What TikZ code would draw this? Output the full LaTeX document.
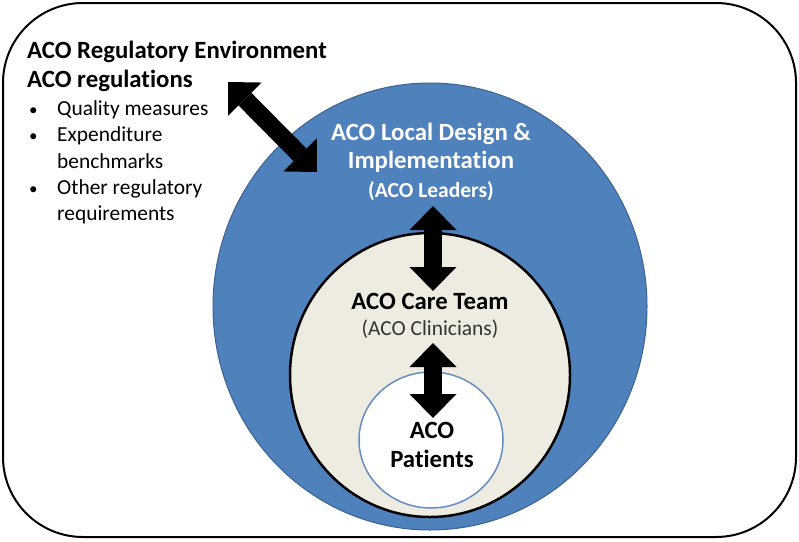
\documentclass[tikz,border=0pt]{standalone}
\usepackage{fontspec}
\setmainfont{Carlito}[Ligatures=NoCommon]
\usetikzlibrary{arrows.meta,shapes.geometric}
\definecolor{acoblue}{RGB}{79,129,189}
\definecolor{acoedge}{RGB}{60,98,145}
\definecolor{acobeige}{RGB}{238,236,225}
\definecolor{acoring}{RGB}{100,142,196}
\begin{document}
\begin{tikzpicture}[x=1pt,y=-1pt]
        \tikzstyle{every node} = [inner sep=0pt]
        \tikzstyle{big} = [font=\fontsize{24.8}{29}\selectfont\bfseries]
        \tikzstyle{small} = [font=\fontsize{21.4}{25}\selectfont]
        \tikzstyle{twoway} = [line width=18pt,
            {Triangle[length=24pt,width=47pt,line width=0pt]}-{Triangle[length=24pt,width=47pt,line width=0pt]}]
        \useasboundingbox (0,0) rectangle (799,541);
        \draw[line width=2pt, rounded corners=80pt] (3,3) rectangle (796,537);

        % the three rings
        \node[ellipse, draw=acoedge, line width=1pt, fill=acoblue, minimum width=434pt, minimum height=447pt] (env) at (430,306.5) {};
        \node[ellipse, draw=black, line width=2.5pt, fill=acobeige, minimum width=280pt, minimum height=284pt] (team) at (430,375) {};
        \node[ellipse, draw=acoring, line width=1.5pt, fill=white, minimum width=144pt, minimum height=136pt] (pat) at (431,440) {};

        % left text
        \node[big, anchor=base west] (regenv) at (27,58) {ACO Regulatory Environment};
        \node[big, anchor=base west] (regs) at (27,87) {ACO regulations};
        \foreach \y [count=\i] in {115,141,194}
            \node[font=\fontsize{17}{20}\selectfont, anchor=base west] (dot\i) at (29,\y) {\textbullet};
        \foreach \y/\t [count=\i] in {115/Quality measures, 141/Expenditure, 168/benchmarks, 194/Other regulatory, 220/requirements}
            \node[small, anchor=base west] (item\i) at (57,\y) {\t};

        % ring labels
        \node[big, text=white] (local) at (431,140) [anchor=base] {ACO Local Design \&};
        \node[big, text=white] (impl) at (431,168) [anchor=base] {Implementation};
        \node[small, text=white, font=\fontsize{21.5}{25}\selectfont\bfseries] (lead) at (431,197) [anchor=base] {(ACO Leaders)};
        \node[big] (care) at (430,309) [anchor=base] {ACO Care Team};
        \node[small, text=black!80] (clin) at (430,335) [anchor=base] {(ACO Clinicians)};
        \node[big] (aco) at (432,438) [anchor=base] {ACO};
        \node[big] (patl) at (432,467) [anchor=base] {Patients};

        % arrow ends
        \coordinate (r1) at (228,82);
        \coordinate (r2) at (317,172);
        \coordinate (l1) at (433,206);
        \coordinate (l2) at (433,291);
        \coordinate (c1) at (433,343);
        \coordinate (c2) at (433,418);
        \foreach \from/\to in {r1/r2, l1/l2, c1/c2}
            \draw[twoway] (\from) -- (\to);
\end{tikzpicture}
\end{document}
